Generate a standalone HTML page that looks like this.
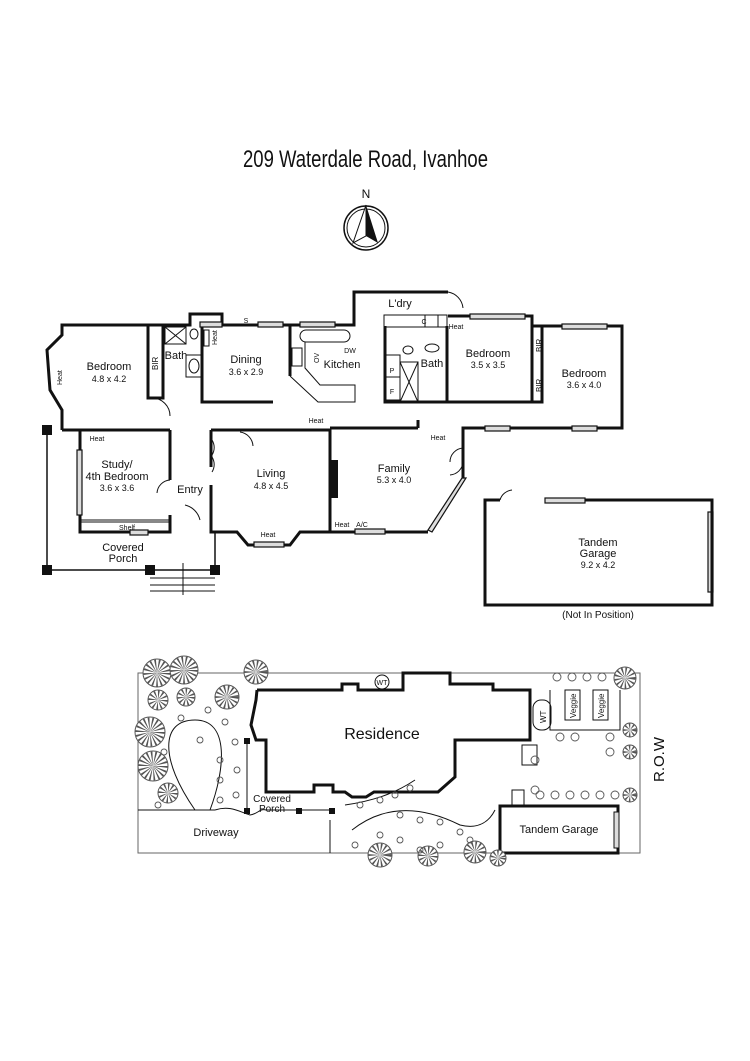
<!DOCTYPE html>
<html><head><meta charset="utf-8"><style>
html,body{margin:0;padding:0;background:#fff}
svg{display:block}
text{font-family:"Liberation Sans",sans-serif;fill:#111}
</style></head><body>
<svg width="750" height="1061" viewBox="0 0 750 1061" xmlns="http://www.w3.org/2000/svg">
<rect width="750" height="1061" fill="#fff"/>
<text x="243" y="167" font-size="24" textLength="245" lengthAdjust="spacingAndGlyphs">209 Waterdale Road, Ivanhoe</text>
<text x="366" y="198" font-size="12" text-anchor="middle">N</text>
<circle cx="366" cy="228" r="22" fill="none" stroke="#111" stroke-width="1.5"/>
<circle cx="366" cy="228" r="19" fill="none" stroke="#111" stroke-width="1"/>
<polygon points="366,205 353,243 366,236" fill="#fff" stroke="#111"/>
<polygon points="366,205 378,243 366,236" fill="#111"/>

<g fill="none" stroke="#111" stroke-width="3">
<polyline points="62,430 62,410 50,390 47,350 62,335 62,325 190,325 190,314 222,314 222,325 288,325"/>
<polyline points="288,325 354,325 354,292 448,292"/>
<polyline points="448,316 532,316 532,326 622,326 622,428 463,428 463,478"/>
<polyline points="418,428 418,420"/>
<polyline points="80,430 170,430"/>
<polyline points="62,430 80,430"/>
<polyline points="80,430 80,532 170,532 170,515"/>
<polyline points="170,430 170,480"/>
<polyline points="211,430 211,467"/>
<polyline points="211,485 211,532 237,532 248,545 290,545 300,532 330,532 428,532"/>
<polyline points="211,430 330,430 330,532"/>
<polyline points="330,428 418,428"/>
<polyline points="202,325 202,402 273,402"/>
<polyline points="163,325 163,398 148,398 148,325"/>
<polyline points="385,326 385,402 447,402 447,326"/>
<polyline points="447,402 532,402 532,326"/>
<polyline points="532,402 542,402 542,326"/>
<polyline points="290,325 290,376"/>
</g>
<rect x="330" y="460" width="8" height="38" fill="#111"/>
<g stroke="#111" stroke-width="1.2" fill="#ddd">
<polygon points="462,478 466,478 432,532 428,530"/>
<rect x="355" y="529" width="30" height="5"/>
<rect x="200" y="322" width="22" height="5"/>
<rect x="258" y="322" width="25" height="5"/>
<rect x="300" y="322" width="35" height="5"/>
<rect x="470" y="314" width="55" height="5"/>
<rect x="562" y="324" width="45" height="5"/>
<rect x="485" y="426" width="25" height="5"/>
<rect x="572" y="426" width="25" height="5"/>
<rect x="77" y="450" width="5" height="65"/>
<rect x="130" y="530" width="18" height="5"/>
<rect x="254" y="542" width="30" height="5"/>
<rect x="545" y="498" width="40" height="5"/>
<rect x="708" y="512" width="5" height="80"/>
</g>
<g fill="none" stroke="#111" stroke-width="1">
<rect x="165" y="327" width="21" height="17"/><line x1="165" y1="327" x2="186" y2="344"/><line x1="186" y1="327" x2="165" y2="344"/>
<rect x="186" y="355" width="16" height="22"/><ellipse cx="194" cy="366" rx="5" ry="7"/>
<ellipse cx="194" cy="334" rx="4" ry="5"/>
<rect x="204" y="330" width="5" height="16"/>
<rect x="300" y="330" width="50" height="12" rx="6"/>
<rect x="292" y="348" width="10" height="18"/>
<polyline points="290,376 318,402 355,402 355,385 320,385 305,368 305,342"/>
<rect x="384" y="315" width="63" height="12"/>
<rect x="425" y="315" width="13" height="12"/>
<rect x="385" y="355" width="15" height="22"/><rect x="385" y="377" width="15" height="23"/>
<rect x="400" y="362" width="18" height="40"/><line x1="400" y1="362" x2="418" y2="402"/><line x1="418" y1="362" x2="400" y2="402"/>
<ellipse cx="432" cy="348" rx="7" ry="4"/>
<ellipse cx="408" cy="350" rx="5" ry="4"/>
<rect x="80" y="520" width="90" height="2"/>
<path d="M152,398 A18,18 0 0 1 170,416"/>
<path d="M212,440 A14,14 0 0 1 212,455 M212,457 A14,14 0 0 1 212,472"/>
<path d="M170,480 A14,14 0 0 0 157,493"/>
<path d="M240,432 A15,15 0 0 1 253,446"/>
<path d="M463,448 A14,14 0 0 0 450,462 M463,462 A14,14 0 0 1 450,475"/>
<path d="M448,292 A18,18 0 0 1 463,308"/>
<path d="M500,500 A14,14 0 0 1 512,490"/>
<path d="M185,505 A20,20 0 0 1 200,520"/>
</g>
<g stroke="#111" fill="none">
<line x1="47" y1="430" x2="47" y2="570" stroke-width="1.5"/>
<line x1="47" y1="570" x2="215" y2="570" stroke-width="1.5"/>
<line x1="215" y1="532" x2="215" y2="570" stroke-width="1.5"/>
<line x1="150" y1="578" x2="215" y2="578"/><line x1="150" y1="585" x2="215" y2="585"/><line x1="150" y1="591" x2="215" y2="591"/>
<line x1="183" y1="595" x2="183" y2="563"/>
</g>
<g fill="#111"><rect x="42" y="425" width="10" height="10"/><rect x="42" y="565" width="10" height="10"/><rect x="145" y="565" width="10" height="10"/><rect x="210" y="565" width="10" height="10"/></g>
<polyline points="500,500 485,500 485,605 712,605 712,500 585,500" fill="none" stroke="#111" stroke-width="3"/>

<g font-size="11" text-anchor="middle">
<text x="109" y="370">Bedroom</text><text x="109" y="382" font-size="9">4.8 x 4.2</text>
<text x="246" y="363">Dining</text><text x="246" y="375" font-size="9">3.6 x 2.9</text>
<text x="342" y="368">Kitchen</text>
<text x="176" y="359">Bath</text>
<text x="432" y="367">Bath</text>
<text x="400" y="307">L'dry</text>
<text x="488" y="357">Bedroom</text><text x="488" y="368" font-size="9">3.5 x 3.5</text>
<text x="584" y="377">Bedroom</text><text x="584" y="388" font-size="9">3.6 x 4.0</text>
<text x="117" y="468">Study/</text><text x="117" y="480">4th Bedroom</text><text x="117" y="491" font-size="9">3.6 x 3.6</text>
<text x="190" y="493">Entry</text>
<text x="271" y="477">Living</text><text x="271" y="489" font-size="9">4.8 x 4.5</text>
<text x="394" y="472">Family</text><text x="394" y="483" font-size="9">5.3 x 4.0</text>
<text x="123" y="551">Covered</text><text x="123" y="562">Porch</text>
<text x="598" y="546">Tandem</text><text x="598" y="557">Garage</text><text x="598" y="568" font-size="9">9.2 x 4.2</text>
<text x="598" y="618" font-size="10">(Not In Position)</text>
<g font-size="7"><text x="97" y="441">Heat</text><text x="316" y="423">Heat</text><text x="268" y="537">Heat</text><text x="342" y="527">Heat</text><text x="362" y="527">A/C</text><text x="438" y="440">Heat</text><text x="456" y="329">Heat</text><text x="350" y="353">DW</text><text x="246" y="323">S</text><text x="424" y="324">C</text><text x="392" y="373">P</text><text x="392" y="394">F</text><text x="127" y="530">Shelf</text></g>
</g>
<g font-size="8"><text transform="translate(158,370) rotate(-90)">BIR</text><text transform="translate(542,352) rotate(-90)">BIR</text><text transform="translate(542,392) rotate(-90)">BIR</text><text transform="translate(62,385) rotate(-90)" font-size="7">Heat</text><text transform="translate(217,345) rotate(-90)" font-size="7">Heat</text><text transform="translate(319,363) rotate(-90)" font-size="7">OV</text></g>

<!-- site plan -->
<g fill="none" stroke="#111">
<rect x="138" y="673" width="502" height="180" stroke-width="1" stroke="#666"/>
<line x1="138" y1="810" x2="215" y2="810"/>
<path d="M215,810 C230,805 240,812 250,815 C258,814 260,808 266,810 L330,810"/>
<path d="M330,820 L330,853"/>
<path d="M195,810 C160,760 160,720 195,720 C230,720 225,770 210,810"/>
<polyline points="257,690 342,690 342,684 358,684 358,690 403,690 403,673 450,673 450,684 493,684 493,690 530,690 530,740 455,740 455,777 438,792 374,792 366,797 352,797 345,792 333,792 333,785 314,785 314,792 266,792 266,740 256,740 251,725 256,700 257,690" stroke-width="3"/>
<path d="M345,805 C380,800 400,790 415,780"/>
<path d="M352,830 C390,800 430,810 460,825 C480,830 490,820 495,810"/>
<rect x="500" y="806" width="118" height="47" stroke-width="3"/>
<rect x="614" y="812" width="5" height="36" fill="#ddd"/>
<rect x="533" y="700" width="18" height="30" rx="8"/>
<circle cx="382" cy="682" r="7" fill="#fff"/>
<rect x="565" y="690" width="15" height="30"/><rect x="593" y="690" width="15" height="30"/>
<polyline points="550,690 550,730 620,730 620,690"/>
<rect x="522" y="745" width="15" height="20"/><rect x="512" y="790" width="12" height="15"/>
</g>
<g fill="#111"><rect x="244" y="738" width="6" height="6"/><rect x="244" y="808" width="6" height="6"/><rect x="296" y="808" width="6" height="6"/><rect x="329" y="808" width="6" height="6"/></g>
<line x1="247" y1="741" x2="247" y2="811" stroke="#111"/>
<g fill="#fff" stroke="#555" stroke-width="1">
<circle cx="157" cy="673" r="14"/><circle cx="184" cy="670" r="14"/><circle cx="256" cy="672" r="12"/>
<circle cx="158" cy="700" r="10"/><circle cx="186" cy="697" r="9"/><circle cx="227" cy="697" r="12"/>
<circle cx="150" cy="732" r="15"/><circle cx="153" cy="766" r="15"/><circle cx="168" cy="793" r="10"/>
<circle cx="625" cy="678" r="11"/><circle cx="630" cy="730" r="7"/><circle cx="630" cy="752" r="7"/><circle cx="630" cy="795" r="7"/>
<circle cx="380" cy="855" r="12"/><circle cx="475" cy="852" r="11"/>
<circle cx="428" cy="856" r="10"/><circle cx="498" cy="858" r="8"/>
</g>
<g fill="none" stroke="#555" stroke-dasharray="1 1.6">
<circle cx="157" cy="673" r="7" stroke-width="13"/><circle cx="184" cy="670" r="7" stroke-width="13"/><circle cx="256" cy="672" r="6" stroke-width="11"/>
<circle cx="158" cy="700" r="5" stroke-width="9"/><circle cx="186" cy="697" r="4.5" stroke-width="8"/><circle cx="227" cy="697" r="6" stroke-width="11"/>
<circle cx="150" cy="732" r="7.5" stroke-width="14"/><circle cx="153" cy="766" r="7.5" stroke-width="14"/><circle cx="168" cy="793" r="5" stroke-width="9"/>
<circle cx="625" cy="678" r="5.5" stroke-width="10"/><circle cx="630" cy="730" r="3.5" stroke-width="6"/><circle cx="630" cy="752" r="3.5" stroke-width="6"/><circle cx="630" cy="795" r="3.5" stroke-width="6"/>
<circle cx="380" cy="855" r="6" stroke-width="11"/><circle cx="475" cy="852" r="5.5" stroke-width="10"/>
<circle cx="428" cy="856" r="5" stroke-width="9"/><circle cx="498" cy="858" r="4" stroke-width="7"/>
</g>
<g fill="none" stroke="#555" stroke-width="0.9">
<circle cx="208" cy="710" r="3"/><circle cx="225" cy="722" r="3"/><circle cx="200" cy="740" r="3"/><circle cx="235" cy="742" r="3"/><circle cx="220" cy="760" r="3"/><circle cx="237" cy="770" r="3"/><circle cx="220" cy="780" r="3"/><circle cx="236" cy="795" r="3"/><circle cx="220" cy="800" r="3"/><circle cx="181" cy="718" r="3"/><circle cx="164" cy="752" r="3"/><circle cx="158" cy="805" r="3"/>
<circle cx="360" cy="805" r="3"/><circle cx="380" cy="800" r="3"/><circle cx="395" cy="795" r="3"/><circle cx="410" cy="788" r="3"/>
<circle cx="400" cy="815" r="3"/><circle cx="420" cy="820" r="3"/><circle cx="440" cy="822" r="3"/><circle cx="460" cy="832" r="3"/><circle cx="380" cy="835" r="3"/><circle cx="400" cy="840" r="3"/><circle cx="440" cy="845" r="3"/><circle cx="470" cy="840" r="3"/><circle cx="355" cy="845" r="3"/><circle cx="420" cy="850" r="3"/>
<circle cx="540" cy="795" r="4"/><circle cx="555" cy="795" r="4"/><circle cx="570" cy="795" r="4"/><circle cx="585" cy="795" r="4"/><circle cx="600" cy="795" r="4"/><circle cx="615" cy="795" r="4"/>
<circle cx="557" cy="677" r="4"/><circle cx="572" cy="677" r="4"/><circle cx="587" cy="677" r="4"/><circle cx="602" cy="677" r="4"/>
<circle cx="560" cy="737" r="4"/><circle cx="575" cy="737" r="4"/><circle cx="610" cy="737" r="4"/><circle cx="610" cy="752" r="4"/><circle cx="535" cy="760" r="4"/><circle cx="535" cy="790" r="4"/>
</g>
<g font-size="16" text-anchor="middle"><text x="382" y="739">Residence</text></g>
<g font-size="10" text-anchor="middle">
<text x="272" y="802">Covered</text><text x="272" y="812">Porch</text>
<text x="216" y="836" font-size="11">Driveway</text>
<text x="559" y="833" font-size="11">Tandem Garage</text>
<text x="382" y="685" font-size="7">WT</text>
</g>
<g font-size="8"><text transform="translate(546,723) rotate(-90)">WT</text><text transform="translate(576,718) rotate(-90)">Veggie</text><text transform="translate(604,718) rotate(-90)">Veggie</text></g>
<text transform="translate(664,782) rotate(-90)" font-size="15">R.O.W</text>
</svg>
</body></html>
